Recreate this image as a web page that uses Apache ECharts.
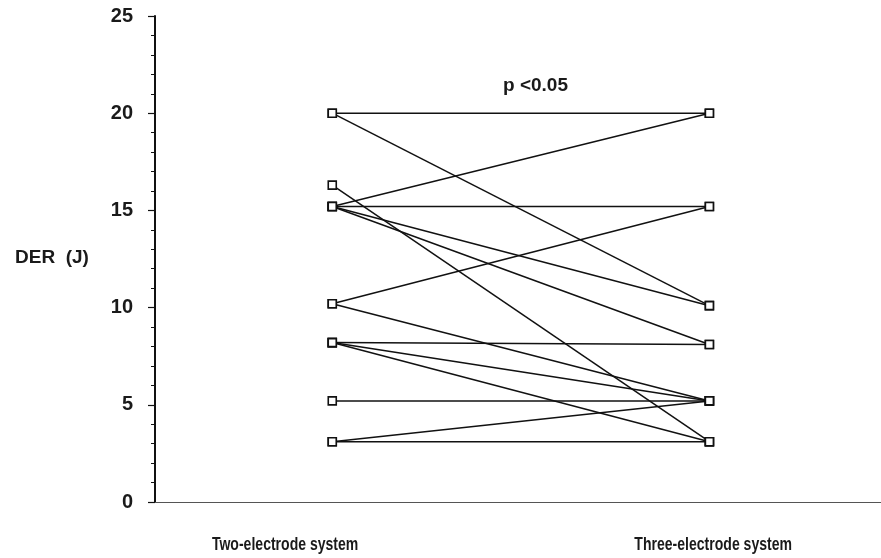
<!DOCTYPE html>
<html>
<head>
<meta charset="utf-8">
<script src="https://cdn.jsdelivr.net/npm/echarts@6/dist/echarts.min.js"></script>
<style>html,body{margin:0;padding:0;background:#fff}#c{width:881px;height:558px}</style>
</head>
<body>
<div id="c"></div>
<script>
// Categories (two systems) and their x positions on the value axis
const categories = ['Two-electrode system', 'Three-electrode system'];
const categoryX = [1, 3];
const categoryLabelX = [0.75, 3.02];
// Each patient: DER with two-electrode system -> DER with three-electrode system
const twoElectrode   = [20, 20,   16.3, 15.2, 15.2, 15.2, 15.2, 10.2, 10.2, 8.2, 8.2, 8.2, 5.2, 3.1, 3.1];
const threeElectrode = [20, 10.1, 3.1,  20,   15.2, 10.1, 8.1,  15.2, 5.2,  8.1, 5.2, 3.1, 5.2, 3.1, 5.2];
const yTicks = [0, 5, 10, 15, 20, 25];
const yAxisName = 'DER  (J)';
const annotation = 'p <0.05';

const chart = echarts.init(document.getElementById('c'), null, {renderer: 'canvas'});
const font = '"Liberation Sans", Arial, sans-serif';

const series = twoElectrode.map((v, i) => ({
  type: 'line',
  data: [[categoryX[0], v], [categoryX[1], threeElectrode[i]]],
  symbol: 'rect',
  symbolSize: 8,
  lineStyle: {color: '#111', width: 1.5},
  itemStyle: {color: '#ffffff', borderColor: '#111', borderWidth: 1.6},
  animation: false,
  silent: true,
  z: 2
}));

chart.setOption({
  backgroundColor: '#ffffff',
  animation: false,
  grid: {left: 155, right: 0, top: 16, bottom: 56},
  xAxis: {
    type: 'value',
    min: 0.06,
    max: 3.91,
    axisLine: {show: true, lineStyle: {color: '#555', width: 1}},
    axisTick: {show: false},
    splitLine: {show: false},
    axisLabel: {show: false}
  },
  yAxis: {
    type: 'value',
    min: yTicks[0],
    max: yTicks[yTicks.length - 1],
    interval: 5,
    axisLine: {show: true, lineStyle: {color: '#111', width: 2}},
    axisTick: {show: true, inside: false, length: 7, lineStyle: {color: '#111', width: 1.2}},
    minorTick: {show: true, splitNumber: 5, length: 4, lineStyle: {color: '#111', width: 1}},
    splitLine: {show: false},
    axisLabel: {
      margin: 22,
      fontFamily: font,
      fontWeight: 'bold',
      fontSize: 20,
      color: '#1a1a1a'
    }
  },
  series: series
});

const labelY = 545;
const catGraphics = categories.map((name, i) => {
  const px = chart.convertToPixel({xAxisIndex: 0}, categoryLabelX[i]);
  return {
    type: 'text',
    x: px, y: labelY,
    originX: px, originY: labelY,
    scaleX: 0.78,
    style: {text: name, font: 'bold 18px ' + font, fill: '#1a1a1a', textAlign: 'center', textVerticalAlign: 'middle'}
  };
});
chart.setOption({
  graphic: [
    {type: 'text', left: 15, top: 248, style: {text: yAxisName, font: 'bold 19px ' + font, fill: '#1a1a1a'}},
    {type: 'text', left: 503, top: 76, style: {text: annotation, font: 'bold 19px ' + font, fill: '#1a1a1a'}}
  ].concat(catGraphics.map(g => ({type: 'group', x: g.x, y: g.y, scaleX: g.scaleX, children: [
    {type: 'text', x: 0, y: 0, style: g.style}
  ]})))
});
</script>
</body>
</html>
